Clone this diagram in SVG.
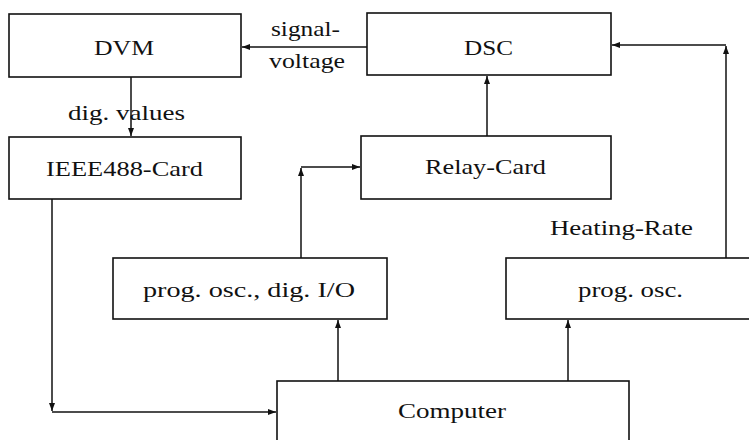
<svg xmlns="http://www.w3.org/2000/svg" width="749" height="440" viewBox="0 0 749 440">
<defs>
<marker id="ah" viewBox="0 0 8 6" refX="8" refY="3" markerWidth="8" markerHeight="6" markerUnits="userSpaceOnUse" orient="auto">
<path d="M0,0 L8,3 L0,6 z" fill="#111"/>
</marker>
</defs>
<style>
rect{fill:#fff;stroke:#111;stroke-width:1.6}
text{font-family:'Liberation Serif','DejaVu Serif',serif;font-size:21px;fill:#111}
.c line{stroke:#111;stroke-width:1.5;fill:none}
</style>
<rect x="0" y="0" width="749" height="440" style="stroke:none"/>
<g class="c" id="connectors">
<line x1="367" y1="47" x2="242" y2="47" marker-end="url(#ah)"/>
<line x1="131" y1="77" x2="131" y2="136" marker-end="url(#ah)"/>
<line x1="487" y1="136" x2="487" y2="76" marker-end="url(#ah)"/>
<line x1="301" y1="258" x2="301" y2="168" marker-end="url(#ah)"/>
<line x1="301" y1="167" x2="360" y2="167" marker-end="url(#ah)"/>
<line x1="726" y1="258" x2="726" y2="46" marker-end="url(#ah)"/>
<line x1="726" y1="45" x2="612" y2="45" marker-end="url(#ah)"/>
<line x1="52" y1="199" x2="52" y2="411" marker-end="url(#ah)"/>
<line x1="52" y1="412" x2="276" y2="412" marker-end="url(#ah)"/>
<line x1="338" y1="381" x2="338" y2="320" marker-end="url(#ah)"/>
<line x1="568" y1="381" x2="568" y2="320" marker-end="url(#ah)"/>
</g>
<g font-family="Liberation Serif, DejaVu Serif, serif">
<g id="dvm"><rect x="9" y="14" width="232" height="63"/><text x="94" y="55" textLength="60" lengthAdjust="spacingAndGlyphs">DVM</text></g>
<g id="dsc"><rect x="367" y="13" width="244" height="62"/><text x="464" y="55" textLength="49" lengthAdjust="spacingAndGlyphs">DSC</text></g>
<g id="ieee"><rect x="9" y="137" width="232" height="62"/><text x="46" y="176" textLength="157" lengthAdjust="spacingAndGlyphs">IEEE488-Card</text></g>
<g id="relay"><rect x="361" y="136" width="250" height="63"/><text x="425" y="174" textLength="121" lengthAdjust="spacingAndGlyphs">Relay-Card</text></g>
<g id="progio"><rect x="113" y="258" width="274" height="61"/><text x="143" y="297" textLength="212" lengthAdjust="spacingAndGlyphs">prog. osc., dig. I/O</text></g>
<g id="progosc"><rect x="506" y="258" width="260" height="61"/><text x="578" y="297" textLength="105" lengthAdjust="spacingAndGlyphs">prog. osc.</text></g>
<g id="computer"><rect x="277" y="381" width="352" height="70"/><text x="398" y="418" textLength="108" lengthAdjust="spacingAndGlyphs">Computer</text></g>
<g id="labels">
<text x="271" y="36" textLength="69" lengthAdjust="spacingAndGlyphs">signal-</text>
<text x="269" y="68" textLength="76" lengthAdjust="spacingAndGlyphs">voltage</text>
<text x="68" y="120" textLength="117" lengthAdjust="spacingAndGlyphs">dig. values</text>
<text x="550" y="235" textLength="143" lengthAdjust="spacingAndGlyphs">Heating-Rate</text>
</g>
</g>
</svg>
